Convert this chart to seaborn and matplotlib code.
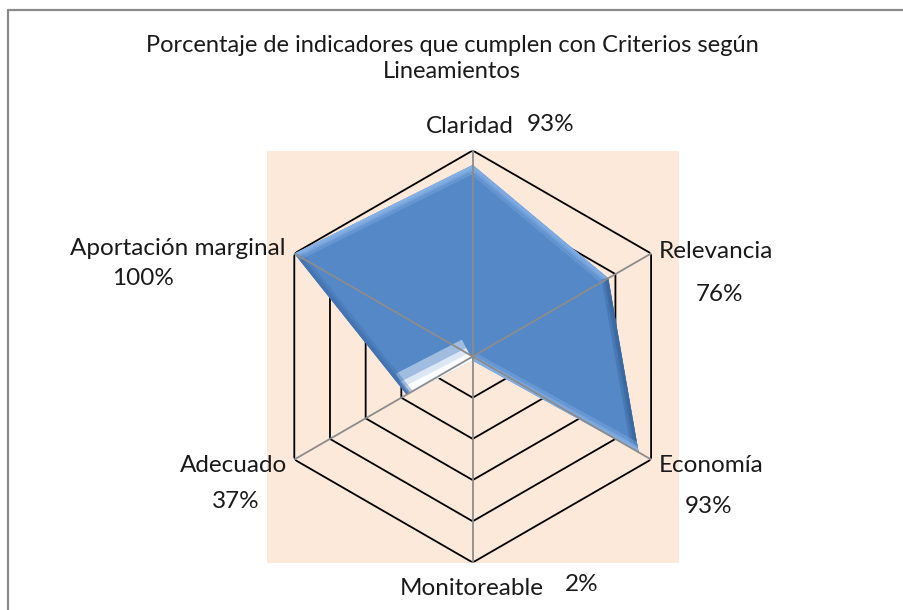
import numpy as np
import pandas as pd
import matplotlib
matplotlib.use("Agg")
import matplotlib.pyplot as plt
import seaborn as sns
from matplotlib.patches import Rectangle
from matplotlib.lines import Line2D

# Data
categories = ["Claridad", "Relevancia", "Economía", "Monitoreable", "Adecuado", "Aportación marginal"]
values = [93, 76, 93, 2, 37, 100]
value_labels = ["93%", "76%", "93%", "2%", "37%", "100%"]
ring_levels = [20, 40, 60, 80, 100]

sns.set_style("white")
plt.rcParams["font.family"] = ["Lato", "DejaVu Sans"]

W, H = 904, 610
fig = plt.figure(figsize=(W / 100, H / 100), dpi=100)
fig.patch.set_facecolor("white")


def fx(x):
    return x / W


def fy(y):
    return 1 - y / H


# chart-area border (top and left edges visible)
border_col = "#8a8a8a"
fig.add_artist(Line2D([fx(8), fx(W + 5)], [fy(10), fy(10)], color=border_col, lw=1.6))
fig.add_artist(Line2D([fx(8), fx(8)], [fy(10), fy(H + 5)], color=border_col, lw=1.6))

# polar plot area
cx, cy, r = 472.7, 356.5, 206.0
ax = fig.add_axes([fx(cx - r), fy(cy + r), 2 * r / W, 2 * r / H], projection="polar")
ax.set_theta_offset(np.pi / 2)
ax.set_theta_direction(-1)
ax.set_ylim(0, 100)
ax.patch.set_visible(False)
ax.spines["polar"].set_visible(False)
ax.grid(False)
ax.set_xticks([])
ax.set_yticks([])

# plot-area background
ax.add_patch(Rectangle((0, 0), 1, 1, transform=ax.transAxes, facecolor="#fde9d9",
                       edgecolor="none", zorder=0, clip_on=False))

n = len(categories)
angles = np.arange(n) * 2 * np.pi / n

# hexagonal grid rings
ring_rows = []
for lvl in ring_levels:
    for k in range(n + 1):
        ring_rows.append({"theta": angles[k % n] + (2 * np.pi if k == n else 0), "r": lvl, "level": lvl, "order": k})
rings = pd.DataFrame(ring_rows)
sns.lineplot(data=rings, x="theta", y="r", units="level", estimator=None, sort=False,
             color="black", linewidth=1.3, legend=False, ax=ax, zorder=1)

# data polygon
theta_closed = np.append(angles, angles[0])
vals_closed = np.append(values, values[0])
poly = ax.fill(theta_closed, vals_closed, color="#5488c7", zorder=2, linewidth=0)[0]

# bevel shading along the polygon edges: soft wide bands plus a sharper inner stripe
edge_cols = ["#80ace2", "#3a68a0", "#84b0e4", "#ffffff", "#4373b0", "#86b1e5"]
wide_w = [12, 10, 12, 34, 10, 12]
wide_a = [0.35, 0.45, 0.4, 0.45, 0.4, 0.35]
for i in range(n):
    j = (i + 1) % n
    ta, tb = angles[i], angles[j] + (2 * np.pi if j == 0 else 0)
    for w_fac, alpha in [(1.0, wide_a[i]), (0.6, min(1.0, wide_a[i] + 0.2)), (0.35, 0.9)]:
        ln, = ax.plot([ta, tb], [values[i], values[j]], color=edge_cols[i], lw=wide_w[i] * w_fac,
                      solid_capstyle="butt", zorder=3, alpha=alpha)
        ln.set_clip_path(poly)

# spokes
for a in angles:
    ax.plot([a, a], [0, 100], color="#8c8c8c", lw=1.3, zorder=4)

fs = 17.5
tcol = "#1a1a1a"
# title
fig.text(fx(452), fy(45), "Porcentaje de indicadores que cumplen con Criterios según",
         ha="center", va="center", fontsize=17, color=tcol)
fig.text(fx(452), fy(72), "Lineamientos", ha="center", va="center", fontsize=17, color=tcol)

# category and value labels
fig.text(fx(470), fy(133), categories[0], ha="center", va="baseline", fontsize=fs, color=tcol)
fig.text(fx(527), fy(131), value_labels[0], ha="left", va="baseline", fontsize=fs, color=tcol)

fig.text(fx(659), fy(258), categories[1], ha="left", va="baseline", fontsize=fs, color=tcol)
fig.text(fx(720), fy(301), value_labels[1], ha="center", va="baseline", fontsize=fs, color=tcol)

fig.text(fx(659), fy(472), categories[2], ha="left", va="baseline", fontsize=fs, color=tcol)
fig.text(fx(709), fy(513), value_labels[2], ha="center", va="baseline", fontsize=fs, color=tcol)

fig.text(fx(472), fy(595), categories[3], ha="center", va="baseline", fontsize=fs, color=tcol)
fig.text(fx(565), fy(591), value_labels[3], ha="left", va="baseline", fontsize=fs, color=tcol)

fig.text(fx(287), fy(472), categories[4], ha="right", va="baseline", fontsize=fs, color=tcol)
fig.text(fx(236), fy(508), value_labels[4], ha="center", va="baseline", fontsize=fs, color=tcol)

fig.text(fx(285), fy(255), categories[5], ha="right", va="baseline", fontsize=fs, color=tcol)
fig.text(fx(143), fy(285), value_labels[5], ha="center", va="baseline", fontsize=fs, color=tcol)

fig.savefig("out.png", dpi=100, facecolor="white")
